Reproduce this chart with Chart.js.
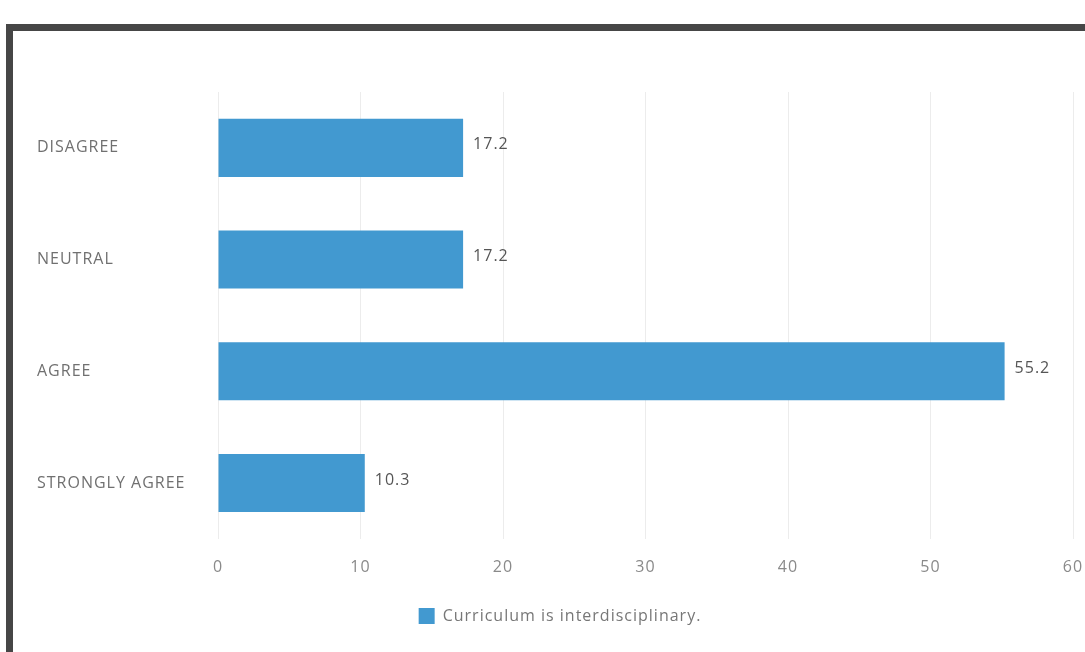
<!DOCTYPE html>
<html>
<head>
<meta charset="utf-8">
<script src="https://cdn.jsdelivr.net/npm/chart.js@4"></script>
<style>
  html, body { margin: 0; padding: 0; background: #fff; }
  #wrap { position: relative; width: 1085px; height: 652px; overflow: hidden; }
  #frame {
    position: absolute; left: 6px; top: 24px; width: 1200px; height: 800px;
    border-left: 7px solid #464646; border-top: 7px solid #464646;
  }
  canvas { position: absolute; left: 0; top: 0; }
</style>
</head>
<body>
<div id="wrap">
  <div id="frame"></div>
  <canvas id="chart" width="1085" height="652"></canvas>
</div>
<script>
const categories = ["DISAGREE", "NEUTRAL", "AGREE", "STRONGLY AGREE"];
const seriesName = "Curriculum is interdisciplinary.";
const values = [17.2, 17.2, 55.2, 10.3];
const xTicks = [0, 10, 20, 30, 40, 50, 60];

// the scanned text is a bit spaced out, canvas state gets reset on resize so set it each pass
const spacing = {
    id: "spacing",
    beforeLayout(chart) {
        chart.ctx.letterSpacing = "1px";
    },
    beforeDraw(chart) {
        chart.ctx.letterSpacing = "1px";
    },
};

// draws the number at the end of each bar
const valueLabels = {
    id: "valueLabels",
    afterDatasetsDraw(chart) {
        const ctx = chart.ctx;
        ctx.save();
        ctx.font = "16px 'Open Sans'";
        ctx.fillStyle = "#555";
        ctx.textBaseline = "middle";
        chart.getDatasetMeta(0).data.forEach((bar, i) => {
            ctx.fillText(values[i].toFixed(1), bar.x + 10, bar.y - 3);
        });
        ctx.restore();
    },
};

new Chart(document.getElementById("chart"), {
    type: "bar",
    data: {
        labels: categories,
        datasets: [
            {
                label: seriesName,
                data: values,
                backgroundColor: "#4299d0",
                barPercentage: 0.8,
                categoryPercentage: 0.65,
            },
        ],
    },
    options: {
        indexAxis: "y",
        responsive: false,
        animation: false,
        layout: { padding: { left: 37, right: 2, top: 92, bottom: 18 } },
        scales: {
            x: {
                min: 0,
                max: 60,
                afterBuildTicks: (axis) => {
                    axis.ticks = xTicks.map((v) => ({ value: v }));
                },
                afterFit: (axis) => {
                    axis.paddingRight = 12;
                },
                grid: { color: "#ececec", drawTicks: false },
                border: { display: false },
                ticks: {
                    color: "#8a8a8a",
                    font: { family: "Open Sans", size: 16 },
                    padding: 19,
                },
            },
            y: {
                grid: { display: false },
                border: { display: false },
                afterFit: (axis) => {
                    axis.width = 181;
                },
                ticks: {
                    crossAlign: "far",
                    color: "#707070",
                    font: { family: "Open Sans", size: 16 },
                },
            },
        },
        plugins: {
            legend: {
                position: "bottom",
                labels: {
                    color: "#777",
                    font: { family: "Open Sans", size: 16 },
                    boxWidth: 16,
                    boxHeight: 16,
                    padding: 12,
                },
            },
            tooltip: { enabled: false },
        },
    },
    plugins: [spacing, valueLabels],
});
</script>
</body>
</html>
